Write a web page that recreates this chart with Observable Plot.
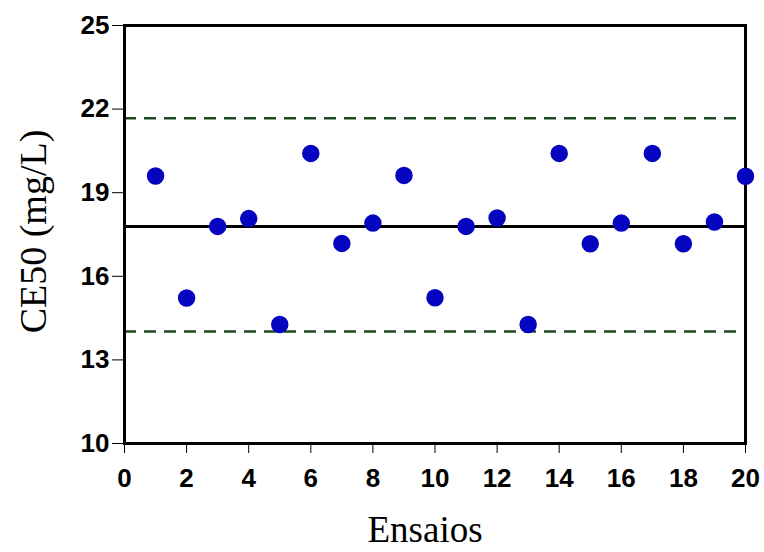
<!DOCTYPE html>
<html><head><meta charset="utf-8">
<script src="https://cdn.jsdelivr.net/npm/d3@7"></script>
<script src="https://cdn.jsdelivr.net/npm/@observablehq/plot@0.6"></script>
<style>body{margin:0;background:#fff}</style>
</head><body><div id="chart"></div>
<script>
const ensaios = [1,2,3,4,5,6,7,8,9,10,11,12,13,14,15,16,17,18,19,20];
const ce50 = [19.6,15.22,17.79,18.07,14.27,20.41,17.18,17.91,19.62,15.23,17.79,18.09,14.27,20.41,17.17,17.91,20.41,17.17,17.95,19.59];
const mean = [17.79];
const limits = [21.67,14.02];
const xTicks = [0,2,4,6,8,10,12,14,16,18,20];
const yTicks = [10,13,16,19,22,25];
const data = ensaios.map((e,i)=>({x:e,y:ce50[i]}));
const chart = Plot.plot({
  width: 764, height: 552,
  marginLeft: 124, marginRight: 19, marginTop: 25, marginBottom: 109,
  style: {fontFamily: "Liberation Sans, Arial, sans-serif", background: "#fff"},
  x: {domain: [0,20]},
  y: {domain: [10,25]},
  marks: [
    Plot.ruleY(limits, {stroke: "#1f4a1f", strokeWidth: 2.5, strokeDasharray: "12,8"}),
    Plot.ruleY(mean, {stroke: "#000", strokeWidth: 3}),
    Plot.frame({stroke: "#000", strokeWidth: 3}),
    Plot.axisX({ticks: xTicks, tickSize: 10, tickWidth: 3, tickPadding: 15, fontSize: 26, fontWeight: "bold", label: null, stroke: "#000"}),
    Plot.axisY({ticks: yTicks, tickSize: 12, tickWidth: 3, tickPadding: 3, fontSize: 26, fontWeight: "bold", label: null, stroke: "#000"}),
    Plot.dot(data, {x: "x", y: "y", r: 8, fill: "#0505c0", stroke: "#0505c0"}),
    Plot.text(["Ensaios"], {frameAnchor: "bottom", dx: -10, dy: 98, fontSize: 37, fontFamily: "Liberation Serif, Times New Roman, serif", fill: "#000"}),
    Plot.text(["CE50 (mg/L)"], {frameAnchor: "left", dx: -91, dy: -3, rotate: -90, textAnchor: "middle", fontSize: 38, fontFamily: "Liberation Serif, Times New Roman, serif", fill: "#000"})
  ]
});
document.getElementById("chart").append(chart);
</script>
</body></html>
